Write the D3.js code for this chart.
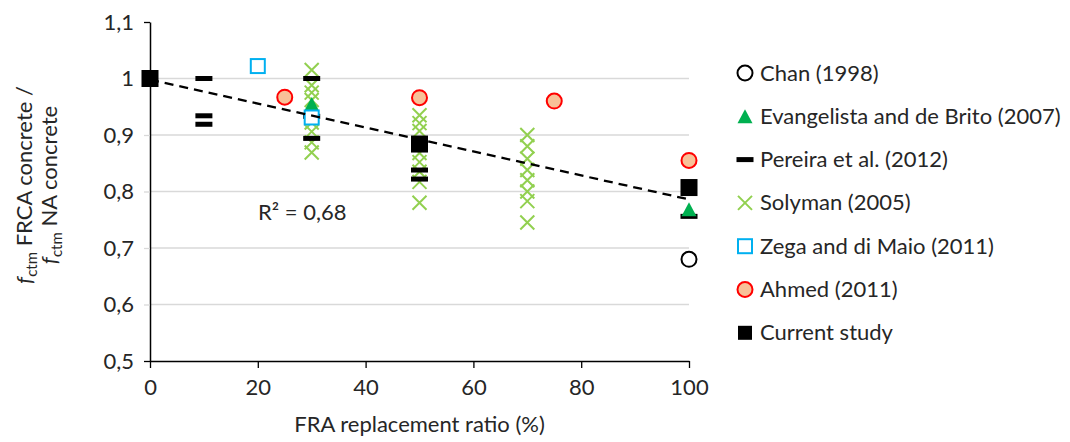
<!DOCTYPE html>
<html lang="en">
<head>
<meta charset="utf-8">
<title>FRCA tensile strength ratio</title>
<script src="https://cdn.jsdelivr.net/npm/d3@7/dist/d3.min.js"></script>
<style>
  body { margin: 0; background: #fff; }
  svg text { font-family: Lato, "Open Sans", sans-serif; fill: #262626; }
</style>
</head>
<body>
<div id="chart"></div>
<script>
// data (x = replacement ratio %, y = ratio)
var chan = [[100, 0.68]];
var evangelista = [[30, 0.953], [30, 0.94], [100, 0.767]];
var pereira = [[10, 1.0], [10, 0.934], [10, 0.919], [30, 1.0], [30, 0.933], [30, 0.894],
               [50, 0.838], [50, 0.822], [100, 0.756]];
var solyman = [[30, 1.015], [30, 0.988], [30, 0.975], [30, 0.962], [30, 0.922], [30, 0.906], [30, 0.887], [30, 0.869],
               [50, 0.935], [50, 0.921], [50, 0.907], [50, 0.868], [50, 0.852], [50, 0.835], [50, 0.817], [50, 0.78],
               [70, 0.9], [70, 0.88], [70, 0.858], [70, 0.838], [70, 0.82], [70, 0.8], [70, 0.783], [70, 0.745]];
var zega = [[20, 1.022], [30, 0.931]];
var ahmed = [[25, 0.967], [50, 0.966], [75, 0.96], [100, 0.855]];
var current = [[0, 1.0], [50, 0.884], [100, 0.807]];
var trend = [[0, 0.998], [100, 0.786]];
var r2Label = "R² = 0,68";

var xTicks = [0, 20, 40, 60, 80, 100];
var yTicks = [0.5, 0.6, 0.7, 0.8, 0.9, 1.0, 1.1];
var legendNames = ["Chan (1998)", "Evangelista and de Brito (2007)", "Pereira et al. (2012)",
                   "Solyman (2005)", "Zega and di Maio (2011)", "Ahmed (2011)", "Current study"];

var width = 1070, height = 442, fs = 22;
var svg = d3.select("#chart").append("svg")
    .attr("width", width).attr("height", height);

var x = d3.scaleLinear().domain([0, 100]).range([150, 689]);
var y = d3.scaleLinear().domain([0.5, 1.1]).range([361, 22]);

var locale = d3.formatLocale({decimal: ",", thousands: ".", grouping: [3], currency: ["", ""]});
var fmt = locale.format(".1~f");

// gridlines
svg.append("g").selectAll("line")
    .data(yTicks.filter(function(d) { return d > 0.5 && d < 1.1; }))
  .enter().append("line")
    .attr("x1", x(0)).attr("x2", x(100))
    .attr("y1", function(d) { return y(d); }).attr("y2", function(d) { return y(d); })
    .attr("stroke", "#d9d9d9").attr("stroke-width", 1.3);

// axes
var yAxis = svg.append("g")
    .attr("transform", "translate(" + x(0) + ",0)")
    .call(d3.axisLeft(y).tickValues(yTicks).tickFormat(fmt).tickSize(6).tickSizeOuter(0).tickPadding(10));
yAxis.attr("font-size", null).attr("font-family", null);
yAxis.select(".domain").attr("stroke", "#000").attr("stroke-width", 1.5);
yAxis.selectAll(".tick line")
    .attr("stroke", function(d) { return (d === 0.5 || d === 1.1) ? "#000" : "#d9d9d9"; })
    .attr("stroke-width", 1.3);
yAxis.selectAll(".tick text").style("font-size", fs + "px").attr("fill", "#262626");

var xAxis = svg.append("g")
    .attr("transform", "translate(0," + y(0.5) + ")")
    .call(d3.axisBottom(x).tickValues(xTicks).tickSize(7).tickSizeOuter(0).tickPadding(11));
xAxis.attr("font-size", null).attr("font-family", null);
xAxis.select(".domain").attr("stroke", "#000").attr("stroke-width", 1.5);
xAxis.selectAll(".tick line").attr("stroke", "#000").attr("stroke-width", 1.3);
xAxis.selectAll(".tick text").style("font-size", fs + "px").attr("fill", "#262626");

// marker drawers
function drawCircle(g, cx, cy, fill, stroke) {
  g.append("circle").attr("cx", cx).attr("cy", cy).attr("r", 7.5)
    .attr("fill", fill).attr("stroke", stroke).attr("stroke-width", 2);
}
function drawTriangle(g, cx, cy) {
  g.append("path")
    .attr("d", "M" + cx + "," + (cy - 8) + "L" + (cx + 7.5) + "," + (cy + 6) + "L" + (cx - 7.5) + "," + (cy + 6) + "Z")
    .attr("fill", "#00b050");
}
function drawDash(g, cx, cy) {
  g.append("rect").attr("x", cx - 8.5).attr("y", cy - 2.5).attr("width", 17).attr("height", 5)
    .attr("fill", "#000");
}
function drawCross(g, cx, cy) {
  var s = 7;
  g.append("path")
    .attr("d", "M" + (cx - s) + "," + (cy - s) + "L" + (cx + s) + "," + (cy + s) +
               "M" + (cx + s) + "," + (cy - s) + "L" + (cx - s) + "," + (cy + s))
    .attr("stroke", "#92d050").attr("stroke-width", 2).attr("fill", "none");
}
function drawOpenSquare(g, cx, cy) {
  g.append("rect").attr("x", cx - 7).attr("y", cy - 7).attr("width", 14).attr("height", 14)
    .attr("fill", "#fff").attr("stroke", "#00b0f0").attr("stroke-width", 2);
}
function drawSquare(g, cx, cy, size) {
  g.append("rect").attr("x", cx - size / 2).attr("y", cy - size / 2).attr("width", size).attr("height", size)
    .attr("fill", "#000");
}

var marks = svg.append("g");
solyman.forEach(function(d) { drawCross(marks, x(d[0]), y(d[1])); });
pereira.forEach(function(d) { drawDash(marks, x(d[0]), y(d[1])); });
evangelista.forEach(function(d) { drawTriangle(marks, x(d[0]), y(d[1])); });
chan.forEach(function(d) { drawCircle(marks, x(d[0]), y(d[1]), "#fff", "#000"); });
zega.forEach(function(d) { drawOpenSquare(marks, x(d[0]), y(d[1])); });

// trendline
svg.append("path")
    .datum(trend)
    .attr("d", d3.line().x(function(d) { return x(d[0]); }).y(function(d) { return y(d[1]); }))
    .attr("stroke", "#000").attr("stroke-width", 2.3).attr("stroke-dasharray", "9,6").attr("fill", "none");

var marksTop = svg.append("g");
ahmed.forEach(function(d) { drawCircle(marksTop, x(d[0]), y(d[1]), "#f8c198", "#ff0000"); });
current.forEach(function(d) { drawSquare(marksTop, x(d[0]), y(d[1]), 17); });

svg.append("text").attr("x", 258).attr("y", 220).style("font-size", fs + "px").text(r2Label);

// axis titles
svg.append("text")
    .attr("x", x(50)).attr("y", 432).attr("text-anchor", "middle").style("font-size", fs + "px")
    .text("FRA replacement ratio (%)");

var yt = svg.append("g").attr("transform", "translate(0,185) rotate(-90)");
[["FRCA concrete /", 32], ["NA concrete", 57]].forEach(function(l) {
  var t = yt.append("text").attr("x", 0).attr("y", l[1]).attr("text-anchor", "middle").style("font-size", fs + "px");
  t.append("tspan").attr("font-style", "italic").text("f");
  t.append("tspan").style("font-size", "15px").attr("dy", 5).text("ctm");
  t.append("tspan").attr("dy", -5).text(" " + l[0]);
});

// legend
var legend = svg.append("g");
legendNames.forEach(function(name, i) {
  var ly = 73 + i * 43.3, lx = 745;
  if (i === 0) drawCircle(legend, lx, ly, "#fff", "#000");
  if (i === 1) drawTriangle(legend, lx, ly + 1);
  if (i === 2) drawDash(legend, lx, ly);
  if (i === 3) drawCross(legend, lx, ly);
  if (i === 4) drawOpenSquare(legend, lx, ly);
  if (i === 5) drawCircle(legend, lx, ly, "#f8c198", "#ff0000");
  if (i === 6) drawSquare(legend, lx, ly, 14);
  legend.append("text").attr("x", 760).attr("y", ly + 7.5).style("font-size", fs + "px").text(name);
});
</script>
</body>
</html>
